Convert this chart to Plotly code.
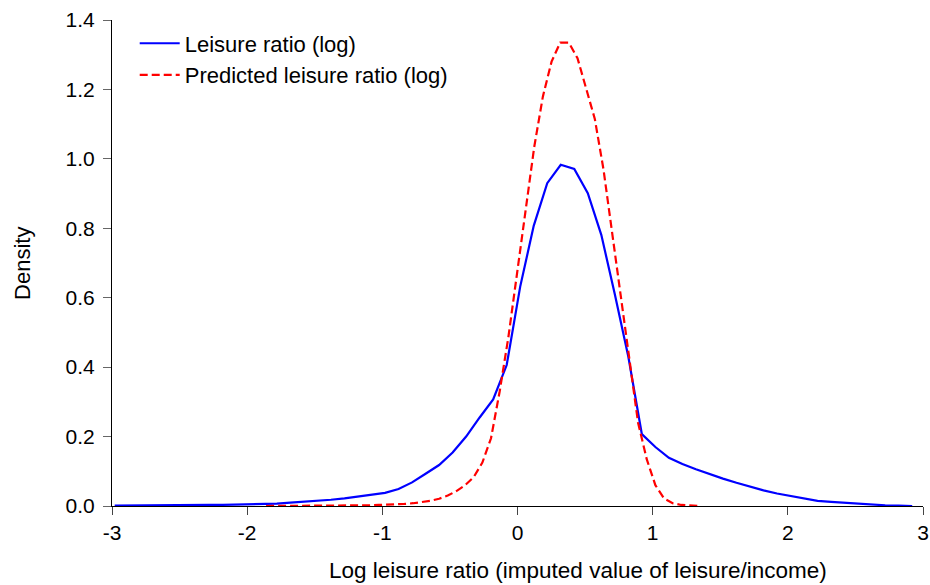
import plotly.graph_objects as go

# Observed density (blue)
x_obs = [-2.98, -2.88, -2.78, -2.68, -2.58, -2.48, -2.38, -2.28, -2.18, -2.08,
         -1.98, -1.88, -1.78, -1.68, -1.58, -1.48, -1.38, -1.28, -1.18, -1.08,
         -0.98, -0.88, -0.78, -0.68, -0.58, -0.48, -0.38, -0.28, -0.18, -0.08,
         0.02, 0.12, 0.22, 0.32, 0.42, 0.52, 0.62, 0.72, 0.82, 0.92,
         1.02, 1.12, 1.22, 1.32, 1.42, 1.52, 1.62, 1.72, 1.82, 1.92,
         2.02, 2.12, 2.22, 2.32, 2.42, 2.52, 2.62, 2.72, 2.82, 2.92]
y_obs = [0.001, 0.001, 0.001, 0.0015, 0.002, 0.002, 0.0025, 0.003, 0.0035, 0.004,
         0.0045, 0.005, 0.007, 0.0095, 0.012, 0.015, 0.018, 0.022, 0.027, 0.032,
         0.038, 0.049, 0.068, 0.093, 0.118, 0.154, 0.200, 0.255, 0.307, 0.406,
         0.632, 0.807, 0.930, 0.983, 0.971, 0.901, 0.781, 0.610, 0.430, 0.207,
         0.170, 0.139, 0.121, 0.106, 0.092, 0.079, 0.067, 0.055, 0.045, 0.036,
         0.029, 0.021, 0.015, 0.012, 0.009, 0.006, 0.004, 0.002, 0.001, 0.0]

# Predicted density (red dashed)
x_pred = [-1.86, -1.796, -1.732, -1.668, -1.604, -1.54, -1.476, -1.412, -1.348, -1.284,
          -1.22, -1.156, -1.092, -1.028, -0.964, -0.9, -0.836, -0.772, -0.708, -0.644,
          -0.58, -0.516, -0.452, -0.388, -0.324, -0.26, -0.196, -0.132, -0.068, -0.004,
          0.06, 0.124, 0.188, 0.252, 0.316, 0.38, 0.444, 0.508, 0.572, 0.636,
          0.7, 0.764, 0.828, 0.892, 0.956, 1.02, 1.084, 1.148, 1.212, 1.276, 1.34]
y_pred = [0.0, 0.0, 0.0005, 0.0005, 0.0005, 0.0007, 0.0008, 0.001, 0.001, 0.0012,
          0.0015, 0.0018, 0.002, 0.003, 0.0035, 0.0045, 0.006, 0.008, 0.011, 0.015,
          0.021, 0.030, 0.043, 0.060, 0.083, 0.125, 0.195, 0.330, 0.485, 0.670,
          0.860, 1.035, 1.180, 1.280, 1.335, 1.335, 1.290, 1.200, 1.115, 0.970,
          0.790, 0.600, 0.420, 0.240, 0.135, 0.060, 0.022, 0.008, 0.003, 0.001, 0.0]

x_ticks = [-3, -2, -1, 0, 1, 2, 3]
y_ticks = [0.0, 0.2, 0.4, 0.6, 0.8, 1.0, 1.2, 1.4]

x_title = "Log leisure ratio (imputed value of leisure/income)"
y_title = "Density"

FONT = "Liberation Sans, Arial, sans-serif"

fig = go.Figure()
fig.add_trace(go.Scatter(x=x_obs, y=y_obs, mode="lines", name="Leisure ratio (log)",
                         line=dict(color="#0000FF", width=2.2)))
fig.add_trace(go.Scatter(x=x_pred, y=y_pred, mode="lines", name="Predicted leisure ratio (log)",
                         line=dict(color="#FF0000", width=2.2, dash="8px,4px")))

fig.update_layout(
    width=930, height=585,
    margin=dict(l=112, r=7, t=20, b=79),
    paper_bgcolor="white", plot_bgcolor="white",
    font=dict(family=FONT, size=21, color="black"),
    showlegend=True,
    legend=dict(x=0.028, y=0.995, xanchor="left", yanchor="top",
                bgcolor="rgba(0,0,0,0)", font=dict(size=22, family=FONT),
                tracegroupgap=0, itemwidth=40),
    xaxis=dict(range=[-3, 3], tickvals=x_ticks, ticktext=[str(v) for v in x_ticks],
               showgrid=False, zeroline=False, showline=True, linecolor="black", linewidth=1,
               ticks="outside", ticklen=8, tickcolor="#444", automargin=False,
               tickfont=dict(size=21)),
    yaxis=dict(range=[0, 1.4], tickvals=y_ticks, ticktext=[f"{v:.1f}" for v in y_ticks],
               showgrid=False, zeroline=False, showline=True, linecolor="black", linewidth=1,
               ticks="outside", ticklen=8, tickcolor="#666", automargin=False,
               ticklabelstandoff=4,
               tickfont=dict(size=21)),
    annotations=[
        dict(text=x_title, xref="paper", yref="paper", x=0.575, y=-0.1337,
             xanchor="center", yanchor="middle", showarrow=False, font=dict(size=22.5)),
        dict(text=y_title, xref="paper", yref="paper", x=-0.111, y=0.5,
             xanchor="center", yanchor="middle", textangle=-90, showarrow=False,
             font=dict(size=22)),
    ],
)

fig.write_html(
    "out.html",
    config={"displayModeBar": False},
    post_script="document.body.style.margin='0';document.body.style.overflow='hidden';",
)
